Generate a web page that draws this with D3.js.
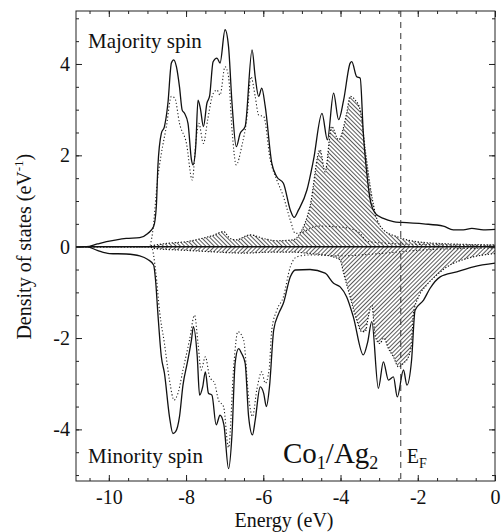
<!DOCTYPE html>
<html lang="en">
<head>
<meta charset="UTF-8">
<title>Co1/Ag2 DOS</title>
<script src="https://d3js.org/d3.v7.min.js"></script>
<style>
  body { margin: 0; background: #fff; }
  svg text { font-family: "Liberation Serif", "DejaVu Serif", serif; fill: #111; }
</style>
</head>
<body>
<svg id="chart"></svg>
<script>
// energy (eV), DOS (states/eV)
const majTotal = [[-10.85,0],[-10.58,0],[-10.3,0.06],[-10.06,0.11],[-9.8,0.15],[-9.55,0.18],[-9.2,0.2],[-8.99,0.29],[-8.84,0.44],[-8.77,0.88],[-8.73,1.75],[-8.64,2.48],[-8.56,2.63],[-8.47,3.14],[-8.38,4.02],[-8.32,4.09],[-8.25,3.94],[-8.17,3.5],[-8.1,2.99],[-8.04,2.92],[-7.95,2.7],[-7.86,1.9],[-7.82,1.79],[-7.75,2.19],[-7.69,3.21],[-7.63,3.03],[-7.55,2.63],[-7.46,3.14],[-7.39,3.3],[-7.3,4.05],[-7.2,4.13],[-7.12,4.02],[-6.99,4.75],[-6.9,4.38],[-6.81,3.14],[-6.7,2.19],[-6.6,2.48],[-6.47,2.63],[-6.29,4.31],[-6.21,3.72],[-6.12,3.29],[-6.04,3.47],[-5.95,3.07],[-5.78,1.83],[-5.65,1.53],[-5.48,1.39],[-5.3,0.8],[-5.2,0.64],[-5.09,0.8],[-4.87,1.24],[-4.7,1.9],[-4.48,2.92],[-4.34,2.34],[-4.18,3.36],[-4.05,2.78],[-3.92,3.21],[-3.75,4.02],[-3.71,4.05],[-3.58,3.72],[-3.49,3.69],[-3.41,2.48],[-3.32,1.61],[-3.23,1.02],[-3.1,0.73],[-2.89,0.62],[-2.63,0.55],[-2.41,0.53],[-1.85,0.5],[-1.34,0.45],[-1.08,0.37],[-0.82,0.37],[-0.6,0.4],[-0.3,0.37],[0,0.38]];
const majCo = [[-10.85,0],[-8.95,0],[-8.87,0.29],[-8.73,1.53],[-8.64,2.04],[-8.51,2.63],[-8.38,3.29],[-8.29,3.25],[-8.17,2.7],[-7.99,2.26],[-7.84,1.46],[-7.74,2.34],[-7.67,2.7],[-7.55,2.26],[-7.44,2.78],[-7.3,3.35],[-7.2,3.43],[-7.12,3.32],[-6.99,3.94],[-6.9,3.72],[-6.81,2.56],[-6.7,1.79],[-6.56,2.19],[-6.42,2.85],[-6.32,3.72],[-6.21,3.29],[-6.12,2.88],[-5.99,2.85],[-5.82,1.9],[-5.65,1.46],[-5.48,1.1],[-5.3,0.58],[-5.17,0.29],[-5.05,0.3],[-4.6,0.45],[-3.9,0.42],[-3.5,0.3],[-3.32,0.12],[-2.9,0.08],[-2,0.05],[0,0.03]];
const majAg = [[-10.85,0],[-9.0,0],[-8.84,0.03],[-8.4,0.08],[-7.98,0.11],[-7.6,0.18],[-7.29,0.25],[-7.03,0.33],[-6.86,0.18],[-6.7,0.15],[-6.34,0.26],[-6.0,0.18],[-5.65,0.13],[-5.22,0.15],[-5.05,0.29],[-4.79,0.88],[-4.53,2.12],[-4.4,1.64],[-4.23,2.63],[-4.05,2.34],[-3.84,2.92],[-3.75,3.29],[-3.62,3.21],[-3.49,2.99],[-3.36,2.12],[-3.23,1.31],[-3.1,0.73],[-2.89,0.37],[-2.54,0.22],[-2.03,0.11],[-1.16,0.06],[0,0.04]];
const minTotal = [[-10.85,0],[-10.58,0],[-10.3,-0.08],[-9.98,-0.15],[-9.55,-0.16],[-9.2,-0.2],[-8.99,-0.28],[-8.84,-0.4],[-8.79,-0.73],[-8.73,-1.46],[-8.64,-2.41],[-8.56,-2.77],[-8.43,-3.72],[-8.34,-4.09],[-8.27,-4.05],[-8.17,-3.72],[-8.08,-3.03],[-7.97,-2.55],[-7.86,-2.04],[-7.81,-1.75],[-7.71,-2.41],[-7.65,-3.25],[-7.57,-3.07],[-7.5,-2.74],[-7.42,-3.21],[-7.33,-3.25],[-7.22,-3.9],[-7.12,-3.69],[-7.02,-3.9],[-6.9,-4.86],[-6.81,-4.1],[-6.73,-2.55],[-6.64,-2.23],[-6.56,-2.34],[-6.47,-2.55],[-6.38,-3.72],[-6.28,-4.12],[-6.21,-3.8],[-6.08,-3.07],[-5.99,-3.21],[-5.92,-3.5],[-5.84,-3.07],[-5.73,-1.82],[-5.6,-1.46],[-5.48,-1.24],[-5.3,-0.66],[-5.17,-0.51],[-4.79,-0.5],[-4.4,-0.58],[-4.18,-0.8],[-4.01,-0.88],[-3.84,-1.1],[-3.67,-1.53],[-3.41,-2.37],[-3.3,-2.1],[-3.19,-1.64],[-3.02,-3.1],[-2.89,-2.52],[-2.76,-2.92],[-2.63,-2.85],[-2.53,-3.29],[-2.37,-2.7],[-2.28,-3.03],[-2.16,-2.48],[-2.07,-1.39],[-1.85,-1.17],[-1.68,-0.91],[-1.42,-0.66],[-0.99,-0.55],[-0.56,-0.44],[0,-0.36]];
const minCo = [[-10.85,0],[-8.9,0],[-8.79,-0.51],[-8.68,-1.46],[-8.56,-2.12],[-8.43,-2.92],[-8.31,-3.36],[-8.21,-3.21],[-8.08,-2.7],[-7.91,-2.04],[-7.78,-1.5],[-7.69,-2.12],[-7.61,-2.7],[-7.5,-2.41],[-7.39,-2.85],[-7.26,-2.99],[-7.16,-3.36],[-7.03,-3.5],[-6.9,-4.4],[-6.76,-2.55],[-6.66,-1.86],[-6.51,-2.04],[-6.38,-3.29],[-6.28,-3.72],[-6.17,-3.14],[-6.04,-2.74],[-5.95,-2.99],[-5.85,-2.7],[-5.78,-1.82],[-5.65,-1.39],[-5.48,-1.1],[-5.3,-0.44],[-5.13,-0.22],[-4.79,-0.18],[-4.01,-0.2],[-2.98,-0.15],[-1.86,-0.07],[0,-0.03]];
const minAg = [[-10.85,0],[-9.0,0],[-8.8,-0.04],[-8.0,-0.08],[-7.37,-0.11],[-6.5,-0.14],[-5.8,-0.12],[-5.2,-0.12],[-4.8,-0.15],[-4.3,-0.2],[-4.01,-0.29],[-3.92,-0.58],[-3.75,-1.1],[-3.58,-1.61],[-3.45,-1.86],[-3.36,-1.86],[-3.28,-1.53],[-3.19,-1.28],[-3.1,-1.97],[-2.98,-2.12],[-2.88,-2.0],[-2.76,-2.23],[-2.63,-2.41],[-2.5,-2.63],[-2.37,-2.55],[-2.24,-2.41],[-2.16,-2.12],[-2.11,-1.46],[-1.98,-1.1],[-1.77,-0.84],[-1.51,-0.62],[-1.16,-0.4],[-0.73,-0.26],[0,-0.15]];

const xTicks = [-10, -8, -6, -4, -2, 0];
const yTicks = [-4, -2, 0, 2, 4];
const fermi = -2.44;

const width = 501, height = 532;
const margin = { top: 11, right: 6, bottom: 51, left: 76 };
const w = width - margin.left - margin.right;
const h = height - margin.top - margin.bottom;
const serif = '"Liberation Serif", "DejaVu Serif", serif';

const svg = d3.select("#chart").attr("width", width).attr("height", height);

const x = d3.scaleLinear().domain([-10.85, 0]).range([0, w]);
const y = d3.scaleLinear().domain([-5.13, 5.16]).range([h, 0]);

// hatch patterns: "\" for majority, "/" for minority
const defs = svg.append("defs");
function hatch(id, angle) {
    const p = defs.append("pattern")
        .attr("id", id)
        .attr("patternUnits", "userSpaceOnUse")
        .attr("width", 3).attr("height", 3)
        .attr("patternTransform", `rotate(${angle})`);
    p.append("line")
        .attr("x1", 0).attr("y1", 0).attr("x2", 0).attr("y2", 3)
        .attr("stroke", "#000").attr("stroke-width", 1.3);
}
hatch("hatchMaj", -45);
hatch("hatchMin", 45);

defs.append("clipPath").attr("id", "plotClip")
    .append("rect").attr("width", w).attr("height", h);

const g = svg.append("g").attr("transform", `translate(${margin.left},${margin.top})`);
const plot = g.append("g").attr("clip-path", "url(#plotClip)");

const line = d3.line().x(d => x(d[0])).y(d => y(d[1])).curve(d3.curveMonotoneX);
const area = d3.area().x(d => x(d[0])).y0(y(0)).y1(d => y(d[1])).curve(d3.curveMonotoneX);

// Ag contribution, hatched
plot.append("path").datum(majAg).attr("d", area).attr("fill", "url(#hatchMaj)");
plot.append("path").datum(minAg).attr("d", area).attr("fill", "url(#hatchMin)");
[majAg, minAg].forEach(s => {
    plot.append("path").datum(s).attr("d", line)
        .attr("fill", "none").attr("stroke", "#111")
        .attr("stroke-width", 1.2).attr("stroke-dasharray", "1.2,1.8");
});

// Co contribution, dotted
[majCo, minCo].forEach(s => {
    plot.append("path").datum(s).attr("d", line)
        .attr("fill", "none").attr("stroke", "#222")
        .attr("stroke-width", 1.1).attr("stroke-dasharray", "1.2,2.2");
});

// total DOS
[majTotal, minTotal].forEach(s => {
    plot.append("path").datum(s).attr("d", line)
        .attr("fill", "none").attr("stroke", "#111").attr("stroke-width", 1.3);
});

// zero line
plot.append("line")
    .attr("x1", 0).attr("x2", w).attr("y1", y(0)).attr("y2", y(0))
    .attr("stroke", "#111").attr("stroke-width", 1.4);

// Fermi level
plot.append("line")
    .attr("x1", x(fermi)).attr("x2", x(fermi)).attr("y1", 0).attr("y2", h)
    .attr("stroke", "#333").attr("stroke-width", 1).attr("stroke-dasharray", "6,5");

// axes: ticks point inward on all four sides
const xMinor = d3.range(-10.5, 0.01, 0.5);
const yMinor = d3.range(-5, 5.01, 0.5);
const fontSize = "20px";

function styleAxis(sel) {
    sel.attr("font-family", null).attr("font-size", null);
    sel.select(".domain").remove();
    sel.selectAll("line").attr("stroke", "#222");
    sel.selectAll("text")
        .style("font-family", serif).style("font-size", fontSize).attr("fill", "#111");
}

g.append("g").attr("transform", `translate(0,${h})`)
    .call(d3.axisBottom(x).tickValues(xMinor).tickSize(-3).tickFormat(""))
    .call(styleAxis);
g.append("g").attr("transform", `translate(0,${h})`)
    .call(d3.axisBottom(x).tickValues(xTicks).tickSize(-6).tickPadding(9).tickFormat(d => String(d)))
    .call(styleAxis);
g.append("g")
    .call(d3.axisTop(x).tickValues(xMinor).tickSize(-3).tickFormat(""))
    .call(styleAxis);
g.append("g")
    .call(d3.axisTop(x).tickValues(xTicks).tickSize(-6).tickFormat(""))
    .call(styleAxis);

g.append("g")
    .call(d3.axisLeft(y).tickValues(yMinor).tickSize(-3).tickFormat(""))
    .call(styleAxis);
g.append("g")
    .call(d3.axisLeft(y).tickValues(yTicks).tickSize(-6).tickPadding(6).tickFormat(d => String(d)))
    .call(styleAxis);
g.append("g").attr("transform", `translate(${w},0)`)
    .call(d3.axisRight(y).tickValues(yMinor).tickSize(-3).tickFormat(""))
    .call(styleAxis);
g.append("g").attr("transform", `translate(${w},0)`)
    .call(d3.axisRight(y).tickValues(yTicks).tickSize(-6).tickFormat(""))
    .call(styleAxis);

// frame
g.append("rect").attr("width", w).attr("height", h)
    .attr("fill", "none").attr("stroke", "#222").attr("stroke-width", 1);

// labels inside the plot
g.append("text").attr("x", 12).attr("y", 37).attr("font-size", "21px").text("Majority spin");
g.append("text").attr("x", 12).attr("y", 452).attr("font-size", "21px").text("Minority spin");

const co = g.append("text").attr("x", 207).attr("y", 452).attr("font-size", "29px");
co.append("tspan").text("Co");
co.append("tspan").attr("font-size", "18px").attr("dy", 6).text("1");
co.append("tspan").attr("dy", -6).text("/Ag");
co.append("tspan").attr("font-size", "18px").attr("dy", 6).text("2");

const ef = g.append("text").attr("x", x(fermi) + 6).attr("y", 452).attr("font-size", "20px");
ef.append("tspan").text("E");
ef.append("tspan").attr("font-size", "14px").attr("dy", 5).text("F");

// axis titles
g.append("text")
    .attr("x", 208).attr("y", h + 46)
    .attr("text-anchor", "middle").attr("font-size", fontSize)
    .text("Energy (eV)");

const yl = svg.append("text")
    .attr("transform", `translate(31,${margin.top + y(0)}) rotate(-90)`)
    .attr("text-anchor", "middle").attr("font-size", fontSize);
yl.append("tspan").text("Density of states (eV");
yl.append("tspan").attr("font-size", "13px").attr("dy", -8).text("-1");
yl.append("tspan").attr("dy", 8).text(")");
</script>
</body>
</html>
